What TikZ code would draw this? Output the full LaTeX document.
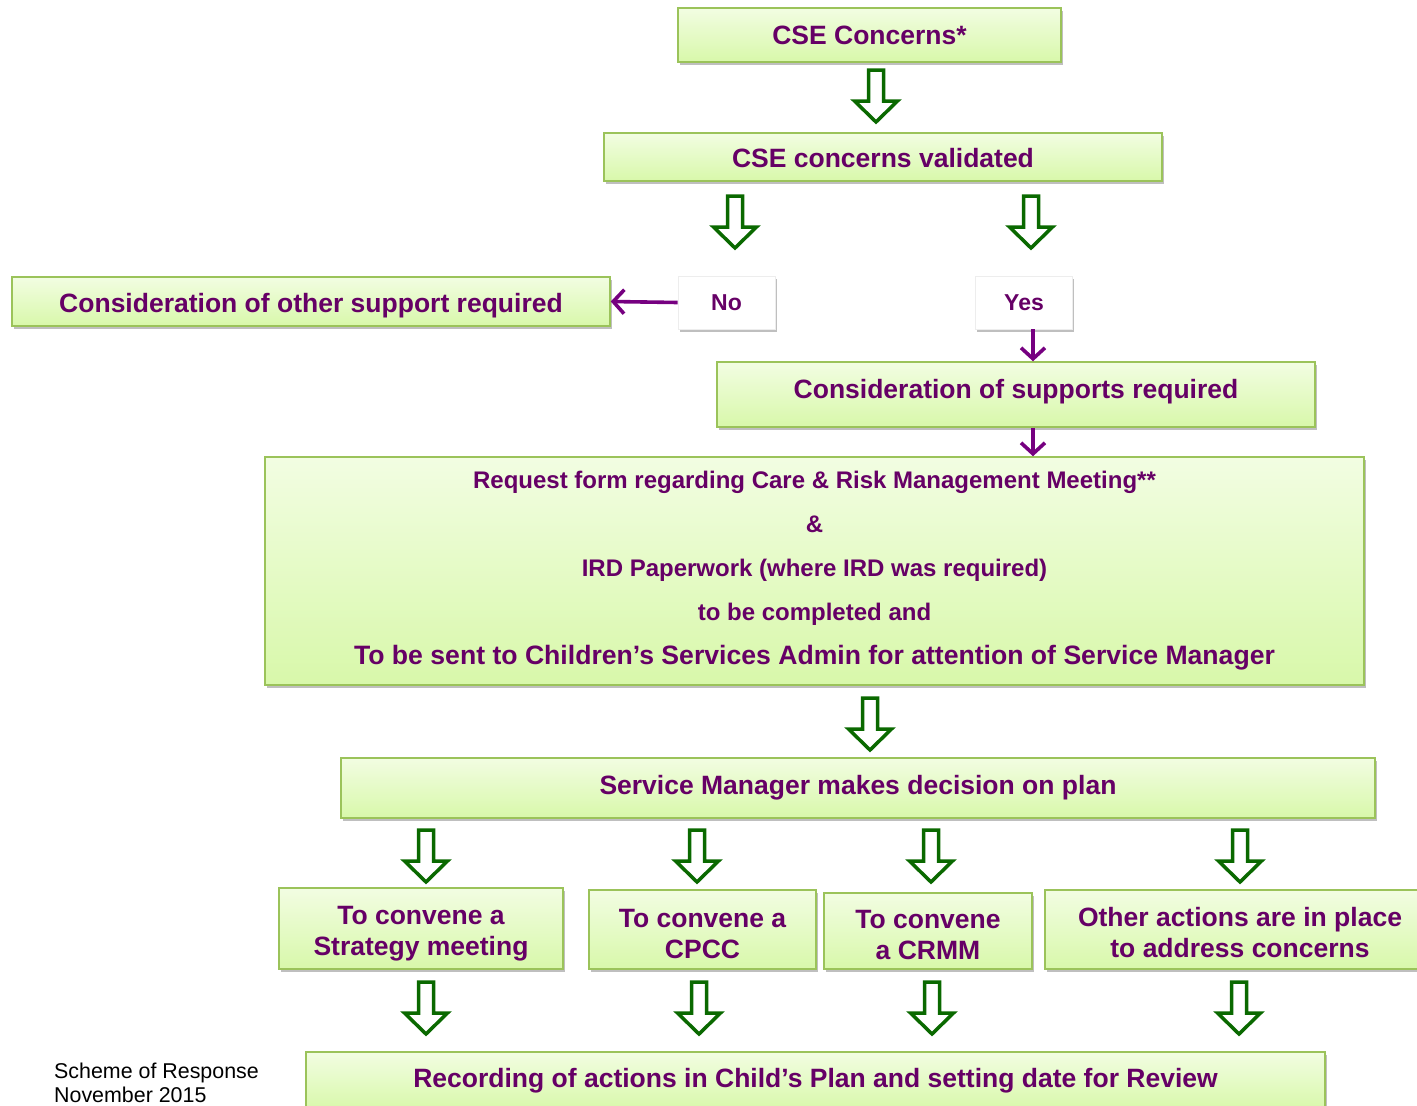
\documentclass[tikz,border=0pt]{standalone}
\usepackage{fontspec}
\setmainfont{Liberation Sans}
\usepackage{tikz}
\usetikzlibrary{arrows.meta}
\usetikzlibrary{shadows,positioning}
\definecolor{txtpurple}{RGB}{102,0,102}
\definecolor{linkpurple}{RGB}{118,0,128}
\definecolor{boxline}{RGB}{155,195,90}
\definecolor{boxtop}{RGB}{242,253,226}
\definecolor{boxbot}{RGB}{216,248,170}
\definecolor{arrowgreen}{RGB}{10,105,0}
\newcommand{\upstrut}[1]{\rule{0pt}{#1}}
\newcommand{\downstrut}[1]{\rule[-#1]{0pt}{0pt}}
\tikzset{pics/hollowdown/.style={code={
\draw[line width=3.5pt, draw=arrowgreen, fill=white, line join=miter]
  (-7.5,0) -- (7.5,0) -- (7.5,31) -- (21.5,31) -- (0,52) -- (-21.5,31) -- (-7.5,31) -- cycle;}}}

\begin{document}
\begin{tikzpicture}[
x=1pt, y=-1pt,
MyBoxes/.style={draw=boxline, line width=1.5pt, top color=boxtop, bottom color=boxbot,
  drop shadow={shadow xshift=2pt, shadow yshift=-3pt, fill=black, opacity=0.25},
  text=txtpurple, font=\bfseries\fontsize{26.5}{31}\selectfont, align=center, inner sep=0pt},
MyAnswers/.style={fill=white, draw=black!7, line width=0.8pt,
  drop shadow={shadow xshift=1.5pt, shadow yshift=-2.5pt, fill=black, opacity=0.25},
  text=txtpurple, font=\bfseries\fontsize{23}{27}\selectfont, minimum width=97pt, minimum height=53pt, inner sep=0pt},
Links/.style={draw=linkpurple, line width=3.6pt, -{Straight Barb[length=11pt, width=24pt]}}
]
\useasboundingbox (0,0) rectangle (1417,1106);

% boxes of the scheme
\node[MyBoxes, minimum width=383pt, minimum height=54pt] (concerns) at (869.5,35) {CSE Concerns*};
\node[MyBoxes, minimum width=558pt, minimum height=48pt] (validated) at (883,157) {\upstrut{22pt}CSE concerns validated};
\node[MyBoxes, minimum width=598pt, minimum height=49pt] (othersupport) at (311,301.5) {\upstrut{27pt}Consideration of other support required};
\node[MyAnswers] (no) at (726.5,302.5) {No};
\node[MyAnswers] (yes) at (1024,302.5) {Yes};
\node[MyBoxes, minimum width=598pt, minimum height=65pt] (supports) at (1016,394.5) {Consideration of supports required\downstrut{12pt}};
\node[MyBoxes, minimum width=1099pt, minimum height=228pt, font=\bfseries\fontsize{24}{44}\selectfont] (request) at (814.5,571)
  {Request form regarding Care \& Risk Management Meeting**\\ \&\\ IRD Paperwork (where IRD was required)\\ to be completed and\\
   {\fontsize{26.6}{44}\selectfont To be sent to Children’s Services Admin for attention of Service Manager}};
\node[MyBoxes, minimum width=1034pt, minimum height=60pt] (decision) at (858,788) {Service Manager makes decision on plan};
\node[MyBoxes, minimum width=284pt, minimum height=81pt] (strategy) at (421,928.5) {\upstrut{28pt}To convene a\\ Strategy meeting};
\node[MyBoxes, minimum width=227pt, minimum height=79pt] (cpcc) at (702.5,929.5) {\upstrut{27pt}To convene a\\ CPCC};
\node[MyBoxes, minimum width=208pt, minimum height=76pt] (crmm) at (928,931) {\upstrut{27pt}To convene\\ a CRMM};
\node[MyBoxes, minimum width=390pt, minimum height=79pt] (otheractions) at (1240,929.5) {\upstrut{26pt}Other actions are in place\\ to address concerns};
\node[MyBoxes, minimum width=1019pt, minimum height=58pt] (recording) at (815.5,1081) {Recording of actions in Child’s Plan and setting date for Review};

% hollow green arrows
\pic (a1) at (876,70) {hollowdown};
\pic (a2) at (735,196) {hollowdown};
\pic (a3) at (1031,196) {hollowdown};
\pic (a4) at (870,698) {hollowdown};
\foreach \X/\N in {426/5,697/6,931/7,1240/8} \pic (a\N) at (\X,830) {hollowdown};
\foreach \X/\N in {426/9,699/10,932/11,1239/12} \pic (a\N) at (\X,982) {hollowdown};

% purple links
\draw[Links] (no.west) -- (othersupport.east);
\draw[Links] ([xshift=9pt]yes.south) -- ([xshift=9pt]yes.south |- supports.north);
\draw[Links] ([xshift=17pt]supports.south) -- ([xshift=17pt]supports.south |- request.north);

\node[anchor=west, align=left, inner sep=0pt, font=\fontsize{21.4}{24}\selectfont] (footer) at (54,1083) {Scheme of Response\\ November 2015};

\end{tikzpicture}
\end{document}
